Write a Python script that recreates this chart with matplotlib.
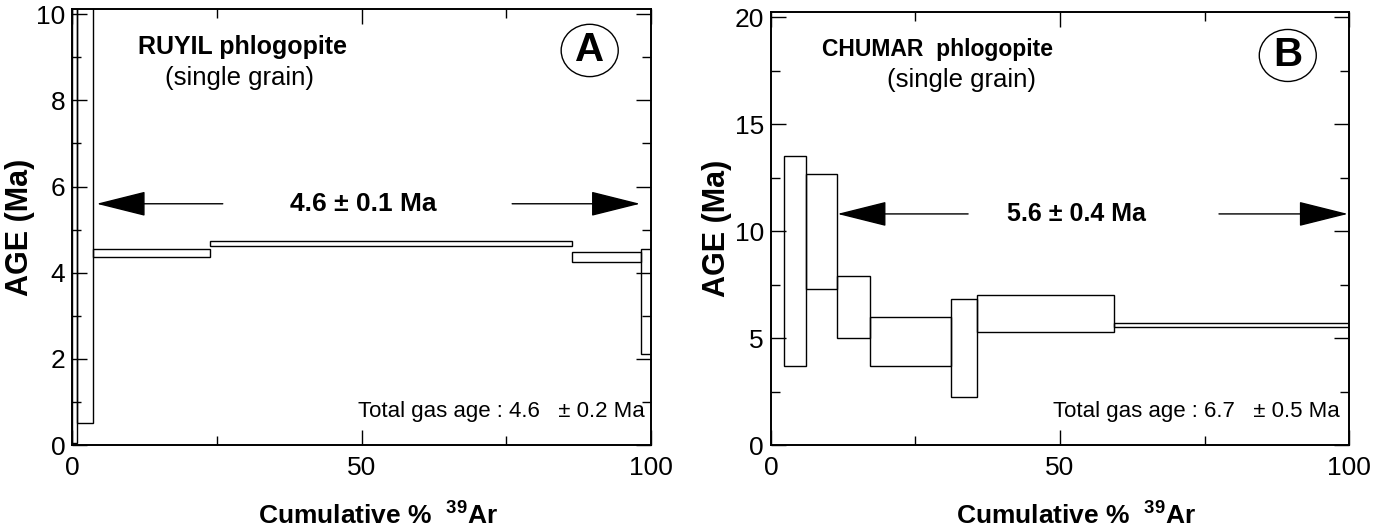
import matplotlib
matplotlib.use("Agg")
import matplotlib.pyplot as plt
import matplotlib.patches as patches
from matplotlib.ticker import MultipleLocator

plt.rcParams["font.family"] = ["Liberation Sans", "DejaVu Sans"]
plt.rcParams["mathtext.fontset"] = "custom"
plt.rcParams["mathtext.rm"] = "Liberation Sans"
plt.rcParams["mathtext.bf"] = "Liberation Sans:bold"

# panel A : RUYIL phlogopite, step heating spectrum
ruyil_left = [0, 0.86, 3.63, 23.8, 86.4, 98.2]
ruyil_right = [0.86, 3.63, 23.8, 86.4, 98.2, 100]
ruyil_low = [0.05, 0.50, 4.36, 4.61, 4.24, 2.12]
ruyil_high = [11, 11, 4.55, 4.73, 4.48, 4.54]

# panel B : CHUMAR phlogopite
chumar_left = [2.25, 6.1, 11.4, 17.1, 31.2, 35.6, 59.4]
chumar_right = [6.1, 11.4, 17.1, 31.2, 35.6, 59.4, 100]
chumar_low = [3.71, 7.29, 5.01, 3.71, 2.26, 5.27, 5.50]
chumar_high = [13.52, 12.68, 7.90, 5.97, 6.81, 7.02, 5.71]

PANELS = [
    {
        "left": ruyil_left, "right": ruyil_right,
        "low": ruyil_low, "high": ruyil_high,
        "ylim": 10.12, "ymajor": 2, "yminor": 1,
        "pos": [0.0525, 0.1635, 0.4203, 0.8195],
        "name": "RUYIL phlogopite", "name_size": 18, "name_x": 0.114, "sub_x": 0.160,
        "letter": "A", "circle": (0.894, 0.905),
        "plateau": "4.6 \u00b1 0.1 Ma", "plateau_size": 19,
        "plateau_age": 5.6, "plateau_x": 50.2,
        "arrow_l": (26.0, 4.2), "arrow_r": (76.0, 98.1),
        "total": "Total gas age : 4.6   \u00b1 0.2 Ma", "total_x": 0.989,
        "ylab_x": -0.064,
    },
    {
        "left": chumar_left, "right": chumar_right,
        "low": chumar_low, "high": chumar_high,
        "ylim": 20.25, "ymajor": 5, "yminor": 2.5,
        "pos": [0.5599, 0.1635, 0.4198, 0.8145],
        "name": "CHUMAR  phlogopite", "name_size": 16.5, "name_x": 0.088, "sub_x": 0.201,
        "letter": "B", "circle": (0.894, 0.899),
        "plateau": "5.6 \u00b1 0.4 Ma", "plateau_size": 18,
        "plateau_age": 10.8, "plateau_x": 52.8,
        "arrow_l": (34.1, 11.5), "arrow_r": (77.5, 99.8),
        "total": "Total gas age : 6.7   \u00b1 0.5 Ma", "total_x": 0.984,
        "ylab_x": -0.068,
    },
]

fig = plt.figure(figsize=(13.77, 5.32), dpi=100)

for p in PANELS:
    ax = fig.add_axes(p["pos"])

    widths = [r - l for l, r in zip(p["left"], p["right"])]
    heights = [h - l for l, h in zip(p["low"], p["high"])]
    ax.bar(p["left"], heights, width=widths, bottom=p["low"], align="edge",
           fill=False, edgecolor="black", linewidth=1.0)

    ax.set_xlim(0, 100)
    ax.set_ylim(0, p["ylim"])

    ax.xaxis.set_major_locator(MultipleLocator(50))
    ax.xaxis.set_minor_locator(MultipleLocator(25))
    ax.yaxis.set_major_locator(MultipleLocator(p["ymajor"]))
    ax.yaxis.set_minor_locator(MultipleLocator(p["yminor"]))
    ax.tick_params(which="both", direction="in", top=True, right=True,
                   width=1.0, labelsize=19)
    ax.tick_params(which="major", length=11)
    ax.tick_params(which="minor", length=6.5)
    ax.tick_params(axis="x", pad=8)
    ax.tick_params(axis="y", pad=5)

    for s in ax.spines.values():
        s.set_linewidth(1.4)

    # sample name
    ax.text(p["name_x"], 0.913, p["name"], transform=ax.transAxes,
            fontsize=p["name_size"], fontweight="bold", va="center", ha="left")
    ax.text(p["sub_x"], 0.842, "(single grain)", transform=ax.transAxes,
            fontsize=18.5, va="center", ha="left")

    # panel letter in a circle
    cx, cy = p["circle"]
    ax.add_patch(patches.Ellipse((cx, cy), 0.0986, 0.12, transform=ax.transAxes,
                                 fill=False, edgecolor="black", linewidth=1.0))
    ax.text(cx, cy, p["letter"], transform=ax.transAxes, fontsize=29,
            fontweight="bold", ha="center", va="center")

    # plateau age with arrows
    y_arr = p["plateau_age"]
    ax.text(p["plateau_x"], y_arr, p["plateau"], fontsize=p["plateau_size"],
            fontweight="bold", ha="center", va="center")
    for start, tip in [p["arrow_l"], p["arrow_r"]]:
        ax.annotate("", xy=(tip, y_arr), xytext=(start, y_arr),
                    arrowprops=dict(arrowstyle="-|>,head_length=3.2,head_width=0.8",
                                    color="black", lw=1.0, shrinkA=0, shrinkB=0,
                                    mutation_scale=10))

    ax.text(p["total_x"], 0.078, p["total"], transform=ax.transAxes,
            fontsize=16, ha="right", va="center")

    ax.set_ylabel("AGE (Ma)", fontsize=22, fontweight="bold")
    ax.yaxis.set_label_coords(p["ylab_x"], 0.5)
    ax.set_xlabel(r"Cumulative %  $^{\mathbf{39}}$Ar", fontsize=19, fontweight="bold")
    ax.xaxis.set_label_coords(0.528, -0.16)
    ax.xaxis.label.set_va("center")

fig.savefig("out.png", dpi=100)
